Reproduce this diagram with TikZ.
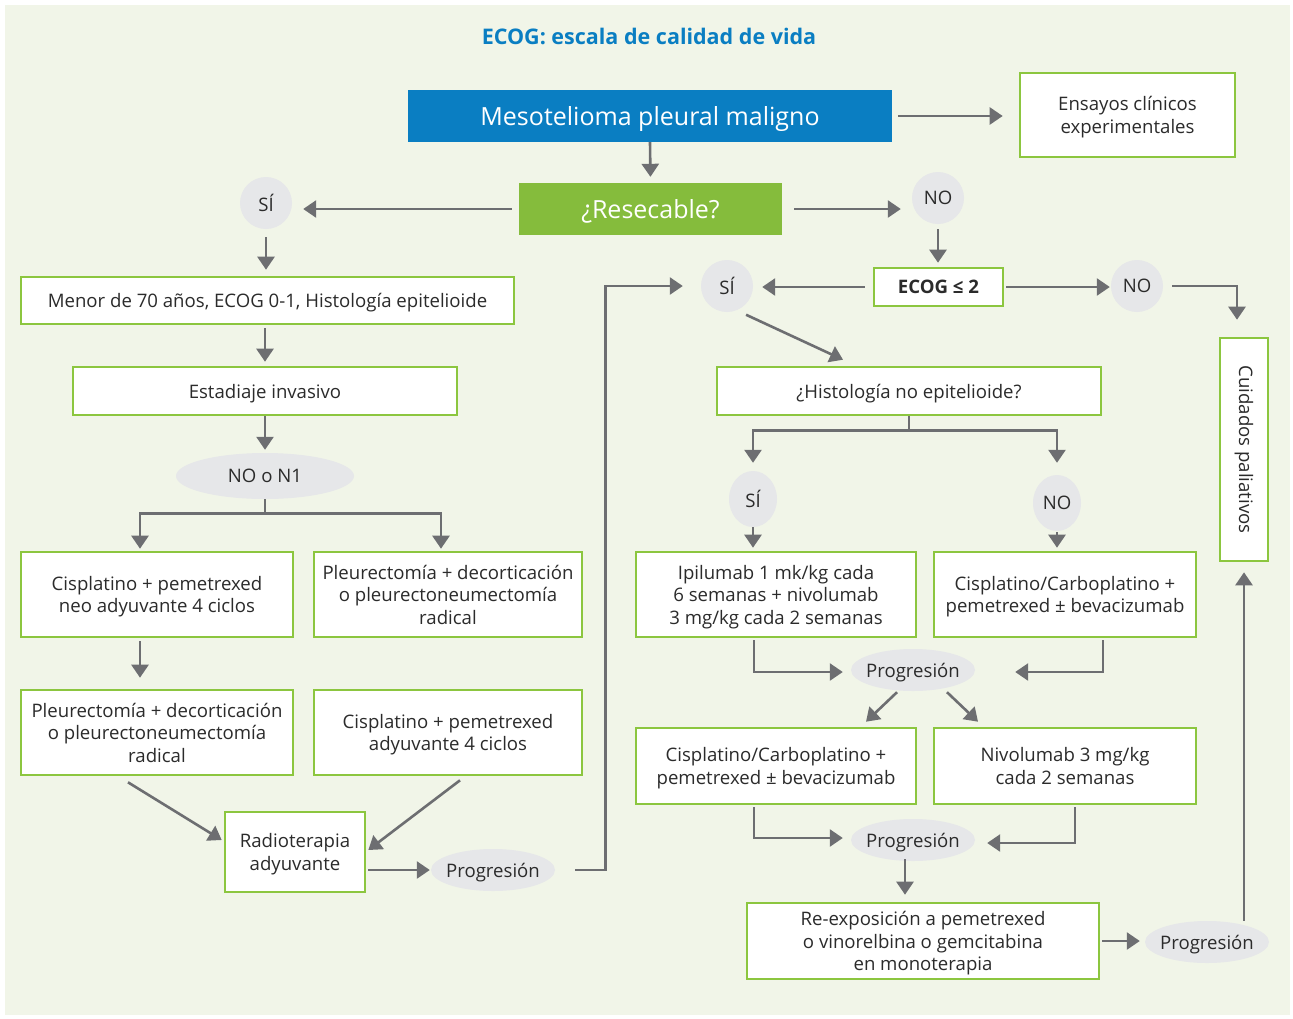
\documentclass[tikz,border=0pt]{standalone}
\usepackage{fontspec}
\setmainfont{Open Sans}
\usetikzlibrary{arrows.meta,shapes.geometric}
\definecolor{fondo}{HTML}{F1F5E8}
\definecolor{verde}{HTML}{8CC63F}
\definecolor{azul}{HTML}{0A7EC2}
\definecolor{gris}{HTML}{E6E7E9}
\definecolor{flechagris}{HTML}{6D6E71}
\definecolor{texto}{HTML}{2B2B2B}
\newcommand\fs{\fontsize{18.6}{22.5}\selectfont}
\newcommand\fg{\fontsize{25}{28}\selectfont}
\begin{document}
\begin{tikzpicture}[x=1pt,y=-1pt,
  box/.style={draw=verde,line width=2.6pt,fill=white,align=center,inner sep=0pt,text depth=0pt,font=\fs,text=texto},
  bola/.style={circle,fill=gris,inner sep=0pt,text depth=0pt,minimum size=52pt,font=\fs,text=texto},
  ovalo/.style={ellipse,fill=gris,inner xsep=-10pt,inner ysep=-6pt,text depth=0pt,minimum width=124pt,minimum height=42pt,font=\fs,text=texto},
  flecha/.style={draw=flechagris,line width=2.6pt,-{Triangle[length=13pt,width=17pt]}}]
  \useasboundingbox (0,0) rectangle (1293,1018);
  \fill[fondo] (5,5) rectangle (1290,1015);
  % cabecera
  \node[font=\fontsize{21.5}{24}\selectfont\bfseries,text=azul] (titulo) at (649,36) {ECOG: escala de calidad de vida};
  \node[fill=azul,text=white,font=\fg,text depth=0pt,minimum width=484pt,minimum height=52pt,inner sep=0pt] (meso) at (650,116) {Mesotelioma pleural maligno};
  \node[box,minimum width=215pt,minimum height=84pt] (ensayos) at (1127.5,115) {Ensayos clínicos\\experimentales};
  \node[fill=verde!95!black,text=white,font=\fg,text depth=0pt,minimum width=263pt,minimum height=52pt,inner sep=0pt] (resec) at (650.5,209) {¿Resecable?};
  \node[bola] (sil) at (266,203) {SÍ};
  \node[bola] (nor) at (938,198) {NO};
  % rama resecable
  \node[box,minimum width=493pt,minimum height=47pt] (menor) at (267.5,300.5) {Menor de 70 años, ECOG 0-1, Histología epitelioide};
  \node[box,minimum width=384pt,minimum height=48pt] (estad) at (265,391) {Estadiaje invasivo};
  \node[ovalo,minimum width=178pt,minimum height=46pt] (n01) at (265,476) {NO o N1};
  \node[box,minimum width=272pt,minimum height=85pt] (cisneo) at (157,594.5) {Cisplatino + pemetrexed\\neo adyuvante 4 ciclos};
  \node[box,minimum width=268pt,minimum height=85pt] (pleuA) at (448,594.5) {Pleurectomía + decorticación\\o pleurectoneumectomía\\radical};
  \node[box,minimum width=272pt,minimum height=85pt] (pleuB) at (157,732.5) {Pleurectomía + decorticación\\o pleurectoneumectomía\\radical};
  \node[box,minimum width=268pt,minimum height=85pt] (cisady) at (448,732.5) {Cisplatino + pemetrexed\\adyuvante 4 ciclos};
  \node[box,minimum width=140pt,minimum height=80pt] (radio) at (295,852) {Radioterapia\\adyuvante};
  \node[ovalo] (prog1) at (493,870) {Progresión};
  % rama no resecable
  \node[bola] (sim) at (727,286) {SÍ};
  \node[box,minimum width=129pt,minimum height=38pt,font=\fs\bfseries] (ecog) at (938.5,287) {ECOG ≤ 2};
  \node[bola] (nor2) at (1137,286) {NO};
  \node[box,text depth={},minimum width=48pt,minimum height=223pt] (cuid) at (1244,449.5) {\rotatebox{-90}{Cuidados paliativos}};
  \node[box,minimum width=384pt,minimum height=48pt] (histo) at (909,391) {¿Histología no epitelioide?};
  \node[ovalo,minimum width=48pt,minimum height=56pt] (sib) at (753,499) {SÍ};
  \node[ovalo,minimum width=48pt,minimum height=56pt] (nob) at (1057,503) {NO};
  \node[box,minimum width=280pt,minimum height=85pt] (ipil) at (776,594.5) {Ipilumab 1 mk/kg cada\\6 semanas + nivolumab\\3 mg/kg cada 2 semanas};
  \node[box,minimum width=262pt,minimum height=85pt] (cisc) at (1065,594.5) {Cisplatino/Carboplatino +\\pemetrexed ± bevacizumab};
  \node[ovalo] (prog2) at (913,670) {Progresión};
  \node[box,minimum width=280pt,minimum height=76pt] (ciscb) at (776,766) {Cisplatino/Carboplatino +\\pemetrexed ± bevacizumab};
  \node[box,minimum width=262pt,minimum height=76pt] (nivo) at (1065,766) {Nivolumab 3 mg/kg\\cada 2 semanas};
  \node[ovalo] (prog3) at (913,840) {Progresión};
  \node[box,minimum width=352pt,minimum height=76pt] (reexp) at (923,941) {Re-exposición a pemetrexed\\o vinorelbina o gemcitabina\\en monoterapia};
  \node[ovalo] (prog4) at (1207,942) {Progresión};
  % conectores
  \draw[flecha,shorten <=6pt,shorten >=16pt] (meso.east) -- (meso.east -| ensayos.west);
  \draw[flecha,shorten >=6pt] (meso.south) -- (resec.north);
  \draw[flecha,shorten <=7pt,shorten >=11pt] (resec.west) -- (resec.west -| sil.east);
  \draw[flecha,shorten <=12pt,shorten >=11pt] (resec.east) -- (resec.east -| nor.west);
  \draw[flecha,shorten <=8pt,shorten >=6pt] (sil.south) -- (sil.south |- menor.north);
  \draw[flecha,shorten <=3pt,shorten >=4pt] (menor.south -| estad.north) -- (estad.north);
  \draw[flecha,shorten >=3pt] (estad.south) -- (n01.north);
  \draw[flecha,shorten >=2pt] (n01.south) -- ++(0,14) -| ([xshift=-17pt]cisneo.north);
  \draw[flecha,shorten >=2pt] (n01.south) -- ++(0,14) -| ([xshift=-7pt]pleuA.north);
  \draw[flecha,shorten <=3pt,shorten >=11pt] ([xshift=-17pt]cisneo.south) -- ([xshift=-17pt]pleuB.north);
  \draw[flecha] ([shift={(-29pt,-6pt)}]pleuB.south) -- ([shift={(-2pt,12pt)}]radio.west);
  \draw[flecha] ([shift={(12pt,-4pt)}]cisady.south) -- ([shift={(2pt,2pt)}]radio.east);
  \draw[flecha,shorten <=2pt,shorten >=1pt] ([yshift=-18pt]radio.east) -- ([yshift=-18pt]radio.east -| prog1.west);
  \draw[flecha,shorten <=20pt,shorten >=18pt] (prog1.east) -- ++(50,0) |- (sim.west);
  \draw[flecha,shorten <=5pt,shorten >=4pt] (nor.south) -- (nor.south |- ecog.north);
  \draw[flecha,shorten <=8pt,shorten >=9pt] (ecog.west) -- (ecog.west -| sim.east);
  \draw[flecha,shorten <=2pt,shorten >=1pt] (ecog.east) -- (ecog.east -| nor2.west);
  \draw[flecha,shorten <=9pt,shorten >=17pt] (nor2.east) -| ([xshift=-7pt]cuid.north);
  \draw[flecha,shorten >=10pt] (prog4.north -| cuid.south) -- (cuid.south);
  \draw[flecha] ([shift={(8pt,-5pt)}]sim.-65) -- ([shift={(-66pt,6pt)}]histo.north);
  \draw[flecha,shorten >=8pt] (histo.south) -- ++(0,14) -| (sib.north);
  \draw[flecha,shorten >=12pt] (histo.south) -- ++(0,14) -| (nob.north);
  \draw[flecha,shorten >=3pt] (sib.south) -- (sib.south |- ipil.north);
  \draw[flecha,shorten <=1pt,shorten >=3pt] (nob.south) -- (nob.south |- cisc.north);
  \draw[flecha,shorten <=2pt,shorten >=8pt] ([xshift=-22pt]ipil.south) |- ([yshift=-2pt]prog2.west);
  \draw[flecha,shorten <=2pt,shorten >=40pt] ([xshift=38pt]cisc.south) |- ([yshift=-2pt]prog2.east);
  \draw[flecha] ([shift={(-16pt,-1pt)}]prog2.south) -- ([shift={(90pt,5pt)}]ciscb.north);
  \draw[flecha] ([shift={(34pt,-1pt)}]prog2.south) -- ([shift={(-87pt,5pt)}]nivo.north);
  \draw[flecha,shorten <=2pt,shorten >=8pt] ([xshift=-22pt]ciscb.south) |- ([yshift=2pt]prog3.west);
  \draw[flecha,shorten <=2pt,shorten >=12pt] ([xshift=10pt]nivo.south) |- ([yshift=-3pt]prog3.east);
  \draw[flecha,shorten <=-2pt,shorten >=7pt] ([xshift=-8pt]prog3.south) -- ([xshift=-8pt]prog3.south |- reexp.north);
  \draw[flecha,shorten <=2pt,shorten >=5pt] (reexp.east) -- (reexp.east -| prog4.west);
\end{tikzpicture}
\end{document}
